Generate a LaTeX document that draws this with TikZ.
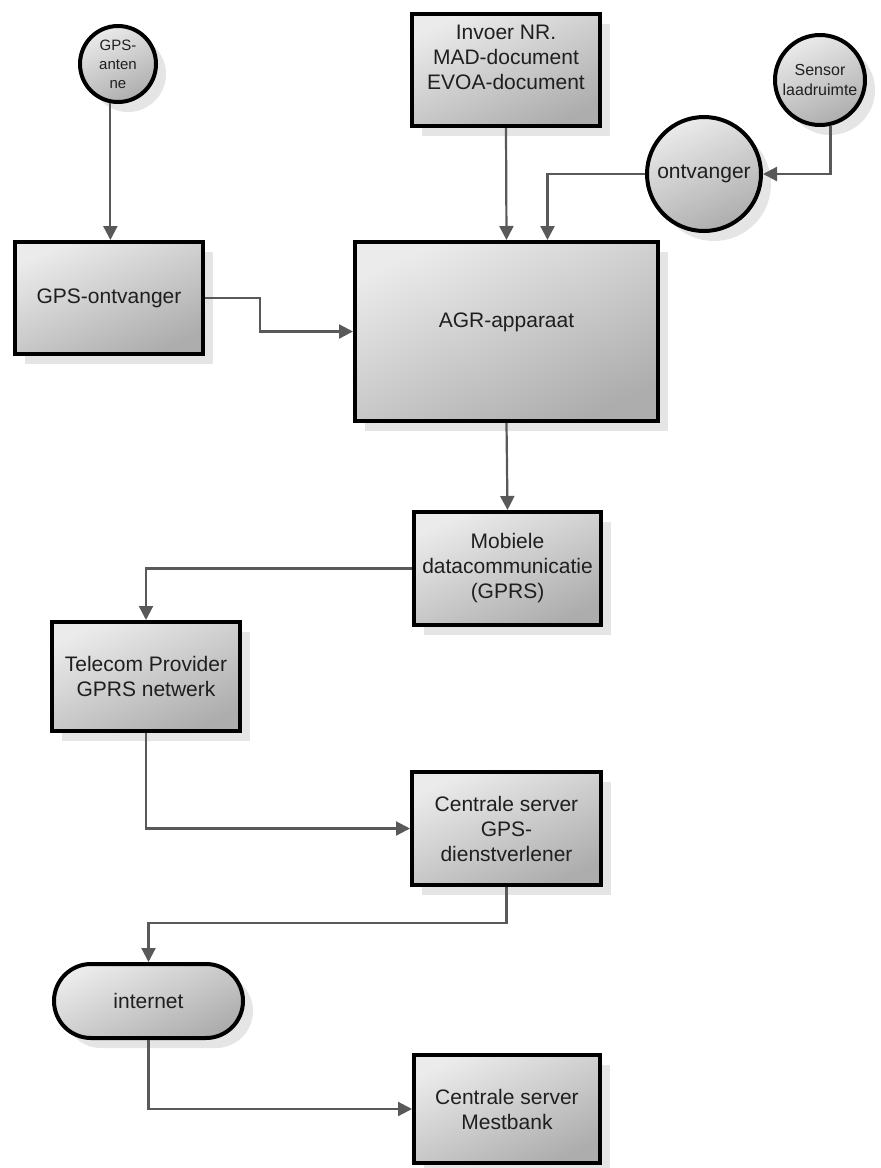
\documentclass[tikz,border=0pt]{standalone}
\usepackage{fontspec}
\setmainfont{Liberation Sans}
\usetikzlibrary{arrows.meta,shadows,shapes.geometric}
\begin{document}
\begin{tikzpicture}[x=1pt,y=-1pt,
  base/.style={draw=black, line width=4pt, top color=black!8, bottom color=black!32, shading angle=25,
    drop shadow={shadow xshift=10pt, shadow yshift=-10pt, fill=black!10, opacity=1},
    font=\fontsize{21}{25}\selectfont, align=center, text=black!88},
  box/.style={base, rectangle, inner sep=2pt},
  circ/.style={base, circle, inner sep=1pt},
  pill/.style={base, rectangle, rounded corners=37pt, inner sep=2pt},
  arr/.style={draw=black!65, line width=2.2pt, -{Triangle[length=14pt,width=14pt]}}
]
\useasboundingbox (0,0) rectangle (881,1168);

\node[circ, minimum size=76pt, font=\fontsize{15}{19}\selectfont] (ant) at (118,64) {GPS-\\anten\\ne};
\node[box, minimum width=188pt, minimum height=112pt] (inv) at (506,70) {Invoer NR.\\MAD-document\\EVOA-document\\\mbox{}};
\node[circ, minimum size=90pt, font=\fontsize{16}{20}\selectfont] (sen) at (820,80) {Sensor\\laadruimte};
\node[circ, minimum size=114pt] (ont) at (704,174) {ontvanger};
\node[box, minimum width=188pt, minimum height=112pt] (gps) at (109,298) {GPS-ontvanger};
\node[box, minimum width=303pt, minimum height=179pt, text height=15pt, text depth=23pt] (agr) at (506.5,331.5) {AGR-apparaat};
\node[box, minimum width=187pt, minimum height=113pt] (mob) at (507.5,568.5) {Mobiele\\datacommunicatie\\(GPRS)};
\node[box, minimum width=188pt, minimum height=109pt] (tel) at (146,676.5) {Telecom Provider\\GPRS netwerk};
\node[box, minimum width=189pt, minimum height=113pt] (cgps) at (506.5,828.5) {Centrale server\\GPS-\\dienstverlener};
\node[pill, minimum width=189pt, minimum height=74pt] (int) at (148.5,1001) {internet};
\node[box, minimum width=186pt, minimum height=108pt] (mest) at (507,1109) {Centrale server\\Mestbank};

\draw[arr] (ant.-101) -- (ant.-101 |- gps.north);
\draw[arr] (inv.south) -- (agr.north);
\draw[arr] (sen.-77) |- (ont.east);
\draw[arr] (ont.west) -| ([xshift=41pt]agr.north);
\draw[arr] (gps.east) -- ++(55,0) |- (agr.west);
\draw[arr] (agr.south) -- (mob.north);
\draw[arr] (mob.west) -| (tel.north);
\draw[arr] (tel.south) |- (cgps.west);
\draw[arr] (cgps.south) -- ++(0,36) -| (int.north);
\draw[arr] (int.south) |- (mest.west);
\end{tikzpicture}
\end{document}
